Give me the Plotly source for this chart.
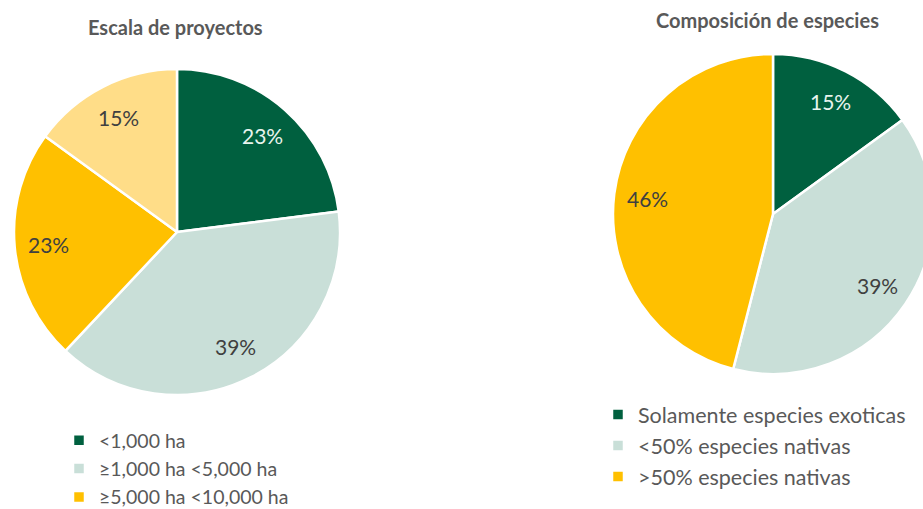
import math
import plotly.graph_objects as go

# Project scale split
escala_labels = ["<1,000 ha", "≥1,000 ha <5,000 ha", "≥5,000 ha <10,000 ha", "≥10,000 ha"]
escala_values = [23, 39, 23, 15]
escala_colors = ["#00603F", "#C9DFD8", "#FFC000", "#FFDD88"]
escala_text_colors = ["#E8F4EE", "#404040", "#404040", "#404040"]

# Species composition split
especies_labels = ["Solamente especies exoticas", "<50% especies nativas", ">50% especies nativas"]
especies_values = [15, 39, 46]
especies_colors = ["#00603F", "#C9DFD8", "#FFC000"]
especies_text_colors = ["#E8F4EE", "#404040", "#404040"]

W, H = 940, 570
FONT = "Lato, 'Open Sans', sans-serif"
GRAY = "#595959"
LABEL_RADIUS = 0.79  # fraction of the pie radius where percentage labels sit


def box(cx, cy, r):
    """Paper-domain box for a pie centred at pixel (cx, cy) with radius r."""
    return dict(x=[(cx - r) / W, (cx + r) / W], y=[1 - (cy + r) / H, 1 - (cy - r) / H])


def slice_labels(values, text_colors, cx, cy, r):
    """Percentage annotations placed at each slice's mid-angle (clockwise from 12 o'clock)."""
    total = sum(values)
    notes, cum = [], 0.0
    for v, c in zip(values, text_colors):
        mid = (cum + v / 2) / total * 2 * math.pi
        cum += v
        px = cx + LABEL_RADIUS * r * math.sin(mid)
        py = cy - LABEL_RADIUS * r * math.cos(mid)
        notes.append(dict(
            text=f"{round(100 * v / total)}%", x=px / W, y=1 - py / H,
            xref="paper", yref="paper", showarrow=False,
            xanchor="center", yanchor="middle",
            font=dict(family=FONT, size=21, color=c),
        ))
    return notes


LEFT = (177, 232, 163)
RIGHT = (773, 214, 160)

fig = go.Figure()

fig.add_trace(go.Pie(
    labels=escala_labels, values=escala_values, sort=False, direction="clockwise",
    rotation=0, domain=box(*LEFT), textinfo="none",
    marker=dict(colors=escala_colors, line=dict(color="white", width=2.5)),
    legend="legend", hoverinfo="label+percent",
))

fig.add_trace(go.Pie(
    labels=especies_labels, values=especies_values, sort=False, direction="clockwise",
    rotation=0, domain=box(*RIGHT), textinfo="none",
    marker=dict(colors=especies_colors, line=dict(color="white", width=2.5)),
    legend="legend2", hoverinfo="label+percent",
))

legend_style = dict(
    bgcolor="rgba(0,0,0,0)", xanchor="left", yanchor="top",
    itemclick=False, itemdoubleclick=False,
)

titles = [
    dict(text="<b>Escala de proyectos</b>", x=175 / W, y=1 - 27 / H, xref="paper", yref="paper",
         showarrow=False, xanchor="center", yanchor="middle",
         font=dict(family=FONT, size=20, color=GRAY)),
    dict(text="<b>Composición de especies</b>", x=767 / W, y=1 - 20 / H, xref="paper", yref="paper",
         showarrow=False, xanchor="center", yanchor="middle",
         font=dict(family=FONT, size=20, color=GRAY)),
]

fig.update_layout(
    width=W, height=H,
    margin=dict(l=0, r=0, t=0, b=0),
    paper_bgcolor="white", plot_bgcolor="white",
    font=dict(family=FONT, color=GRAY),
    legend=dict(x=59 / W, y=1 - 421 / H, font=dict(family=FONT, size=19.5, color=GRAY), **legend_style),
    legend2=dict(x=598 / W, y=1 - 394 / H, font=dict(family=FONT, size=21.5, color=GRAY), **legend_style),
    annotations=titles
    + slice_labels(escala_values, escala_text_colors, *LEFT)
    + slice_labels(especies_values, especies_text_colors, *RIGHT),
)

# The figure is slightly larger than the viewport: stop the page from scrolling and
# remove legend entries that start below the visible area.
page_script = """
document.documentElement.style.overflow = 'hidden';
document.body.style.overflow = 'hidden';
document.body.style.margin = '0';
Array.from(document.querySelectorAll('g.traces')).forEach(function (g) {
    if (g.getBoundingClientRect().top >= window.innerHeight) { g.remove(); }
});
"""

fig.write_html("out.html", post_script=page_script)
